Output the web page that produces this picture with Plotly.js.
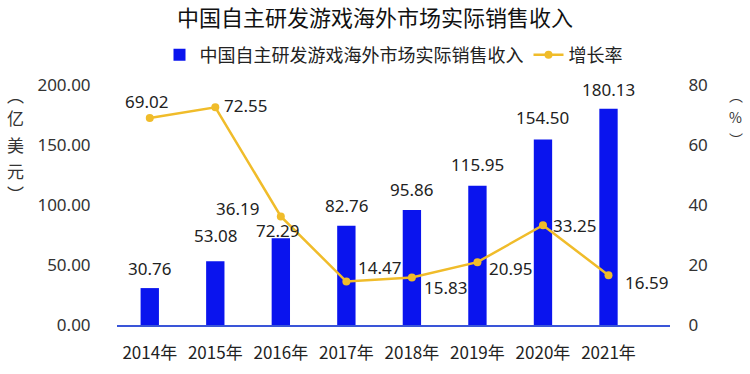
<!DOCTYPE html>
<html><head><meta charset="utf-8">
<script src="https://cdn.plot.ly/plotly-3.0.1.min.js"></script>
<style>body{margin:0;background:#fff}#c{width:750px;height:374px}</style>
</head><body><div id="c"></div>
<script>
const years = ['2014年','2015年','2016年','2017年','2018年','2019年','2020年','2021年'];
const revenue = [30.76, 53.08, 72.29, 82.76, 95.86, 115.95, 154.50, 180.13];
const growth = [69.02, 72.55, 36.19, 14.47, 15.83, 20.95, 33.25, 16.59];
const leftTitleChars = ['︵','亿','美','元','︶'];
const rightTitleChars = ['︵','%','︶'];
const revLabelShift = [[0,20],[0,26],[-3,8],[0,20],[0,20],[0,21],[0,22],[0,19]];
const growthLabelShift = [[-3,16],[30,2],[-43,8],[33,14],[34,-10],[33,-6],[32,0],[38,-7]];

const font = "'Noto Sans CJK SC', 'Noto Sans', sans-serif";
const numFont = "'Noto Sans', 'Noto Sans CJK SC', sans-serif";
const annotations = [];
revenue.forEach((v,i)=>annotations.push({x:years[i], y:v, xref:'x', yref:'y', text:v.toFixed(2), showarrow:false,
  xshift:revLabelShift[i][0], yshift:revLabelShift[i][1], font:{size:17,color:'#222',family:numFont}}));
growth.forEach((v,i)=>annotations.push({x:years[i], y:v, xref:'x', yref:'y2', text:v.toFixed(2), showarrow:false,
  xshift:growthLabelShift[i][0], yshift:growthLabelShift[i][1], font:{size:17,color:'#222',family:numFont}}));
const leftY = [95, 118, 144, 170, 193];
leftTitleChars.forEach((c,i)=>annotations.push({xref:'paper', yref:'paper', x:-0.184, y:(325-leftY[i])/240,
  xanchor:'center', yanchor:'middle', showarrow:false, text:c, font:{size:17,color:'#333',family:font}}));
const rightY = [95, 117, 139];
rightTitleChars.forEach((c,i)=>annotations.push({xref:'paper', yref:'paper', x:1.119, y:(325-rightY[i])/240,
  xanchor:'center', yanchor:'middle', showarrow:false, borderpad:0, text:c, font:{size:14,color:'#333',family:font}}));

const data = [
  {type:'bar', name:'中国自主研发游戏海外市场实际销售收入', x:years, y:revenue,
   marker:{color:'#0a14ee'}, width:0.28, yaxis:'y'},
  {type:'scatter', mode:'lines+markers', name:'增长率', x:years, y:growth, yaxis:'y2',
   line:{color:'#f0bc2a', width:2.5}, marker:{color:'#f0bc2a', size:8}}
];
const layout = {
  width:750, height:374, margin:{l:117, r:80, t:85, b:49},
  paper_bgcolor:'#fff', plot_bgcolor:'#fff',
  font:{family:font, color:'#333'},
  title:{text:'中国自主研发游戏海外市场实际销售收入', x:0.5, xanchor:'center', y:0.95, yanchor:'middle',
    font:{size:22,color:'#111',family:font}},
  showlegend:true,
  legend:{orientation:'h', x:0.5, xanchor:'center', y:1.125, yanchor:'middle', font:{size:18,color:'#222',family:font},
    traceorder:'normal', itemwidth:30},
  xaxis:{showline:true, linecolor:'#3a55d8', linewidth:1.5, showgrid:false, zeroline:false,
    ticks:'outside', ticklen:12, tickcolor:'rgba(0,0,0,0)', tickfont:{size:17,color:'#222',family:font}},
  yaxis:{range:[0,200], dtick:50, tickformat:'.2f', showgrid:false, zeroline:false, showline:false,
    ticks:'outside', ticklen:22, tickcolor:'rgba(0,0,0,0)', tickfont:{size:17,color:'#333',family:numFont}},
  yaxis2:{range:[0,80], dtick:20, overlaying:'y', side:'right', showgrid:false, zeroline:false, showline:false,
    ticks:'outside', ticklen:14, tickcolor:'rgba(0,0,0,0)', tickfont:{size:17,color:'#333',family:numFont}},
  annotations:annotations
};
Plotly.newPlot('c', data, layout, {displayModeBar:false});
</script></body></html>
